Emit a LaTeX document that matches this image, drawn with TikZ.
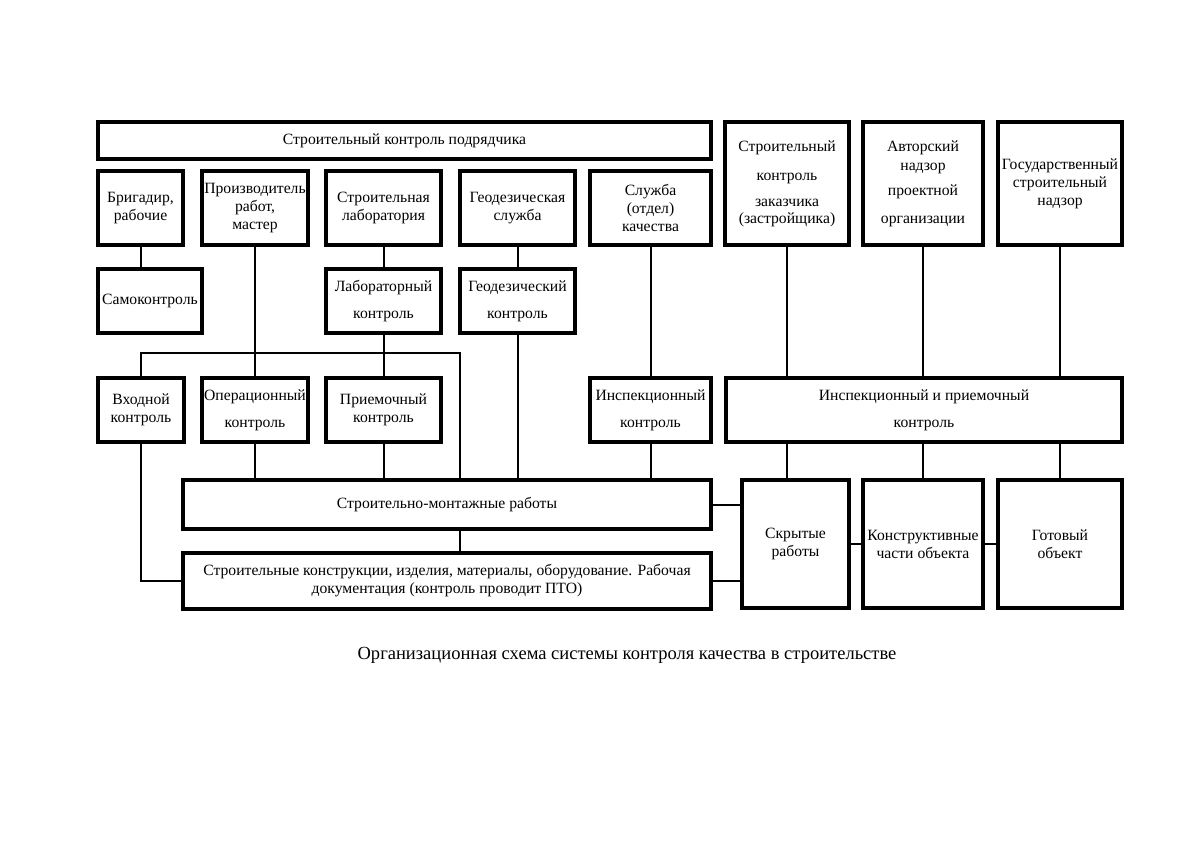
\documentclass[tikz,border=0pt]{standalone}
\usepackage{fontspec}
\setmainfont{Liberation Serif}
\tikzset{
  box/.style={draw, line width=2.2pt, rectangle, inner sep=0pt, align=center,
    font=\fontsize{11}{12.6}\selectfont},
  conn/.style={line width=1.4pt},
  capt/.style={font=\fontsize{13}{15}\selectfont, anchor=base}
}
\newcommand\bx[6]{\node[box, minimum width={(#4-#2)*0.70167pt}, minimum height={(#5-#3)*0.70167pt}] (#1) at ({(#2+#4)/2},{(#3+#5)/2}) {#6};}
\begin{document}
\begin{tikzpicture}[x=0.70167pt, y=-0.70167pt]
\useasboundingbox (0,0) rectangle (1200,849);
% boxes
\bx{top}{98}{122}{711}{159}{Строительный контроль подрядчика}
\bx{brig}{98}{171}{183}{245}{Бригадир,\\рабочие}
\bx{proizv}{202}{171}{308}{245}{Производитель\\работ,\\мастер}
\bx{slab}{326}{171}{441}{245}{Строительная\\лаборатория}
\bx{geos}{460}{171}{575}{245}{Геодезическая\\служба}
\bx{kach}{590}{171}{711}{245}{Служба\\(отдел)\\качества}
\bx{zak}{725}{122}{849}{245}{Строительный\\[7.7pt]контроль\\[5.6pt]заказчика\\[-0.7pt](застройщика)}
\bx{avt}{863}{122}{983}{245}{Авторский\\[0.7pt]надзор\\[4.9pt]проектной\\[7pt]организации}
\bx{gos}{998}{122}{1122}{245}{Государственный\\строительный\\надзор}
\bx{samo}{98}{269}{202}{333}{Самоконтроль}
\bx{labk}{326}{269}{441}{333}{Лабораторный\\[6.3pt]контроль}
\bx{geok}{460}{269}{575}{333}{Геодезический\\[6.3pt]контроль}
\bx{vhod}{98}{378}{184}{442}{Входной\\контроль}
\bx{oper}{202}{378}{308}{442}{Операционный\\[6.3pt]контроль}
\bx{priem}{326}{378}{441}{442}{Приемочный\\контроль}
\bx{insp}{590}{378}{711}{442}{Инспекционный\\[6.3pt]контроль}
\bx{ipk}{726}{378}{1122}{442}{Инспекционный и приемочный\\[6.3pt]контроль}
\bx{smr}{183}{480}{711}{529}{Строительно-монтажные работы}
\bx{konstr}{183}{553}{711}{609}{Строительные конструкции, изделия, материалы, оборудование. Рабочая\\документация (контроль проводит ПТО)}
\bx{skr}{742}{480}{849}{608}{Скрытые\\работы}
\bx{kch}{863}{480}{983}{608}{Конструктивные\\части объекта}
\bx{got}{998}{480}{1122}{608}{Готовый\\объект}
% caption
\node[capt] (cap) at (627,659) {Организационная схема системы контроля качества в строительстве};
% connectors
\coordinate (hl) at (141,353);
\coordinate (hr) at (460,353);
\draw[conn] (brig.south) -- (brig.south |- samo.north);
\draw[conn] (proizv.south) -- (oper.north);
\draw[conn] (oper.south) -- (oper.south |- smr.north);
\draw[conn] (slab.south) -- (labk.north);
\draw[conn] (labk.south) -- (priem.north);
\draw[conn] (priem.south) -- (priem.south |- smr.north);
\draw[conn] (vhod.north) -- (vhod.north |- hl) -- (hr) -- (hr |- smr.north);
\draw[conn] (vhod.south) |- (konstr.west);
\draw[conn] (geos.south) -- (geok.north);
\draw[conn] (geok.south) -- (geok.south |- smr.north);
\draw[conn] (kach.south) -- (insp.north);
\draw[conn] (insp.south) -- (insp.south |- smr.north);
\draw[conn] (smr.south -| hr) -- (konstr.north -| hr);
\draw[conn] (smr.east) -- (smr.east -| skr.west);
\draw[conn] (konstr.east) -- (konstr.east -| skr.west);
\draw[conn] (skr.east) -- (kch.west);
\draw[conn] (kch.east) -- (got.west);
\draw[conn] (zak.south) -- (zak.south |- ipk.north);
\draw[conn] (avt.south) -- (avt.south |- ipk.north);
\draw[conn] (gos.south) -- (gos.south |- ipk.north);
\draw[conn] (zak.south |- ipk.south) -- (zak.south |- skr.north);
\draw[conn] (avt.south |- ipk.south) -- (avt.south |- kch.north);
\draw[conn] (gos.south |- ipk.south) -- (gos.south |- got.north);
\end{tikzpicture}
\end{document}
